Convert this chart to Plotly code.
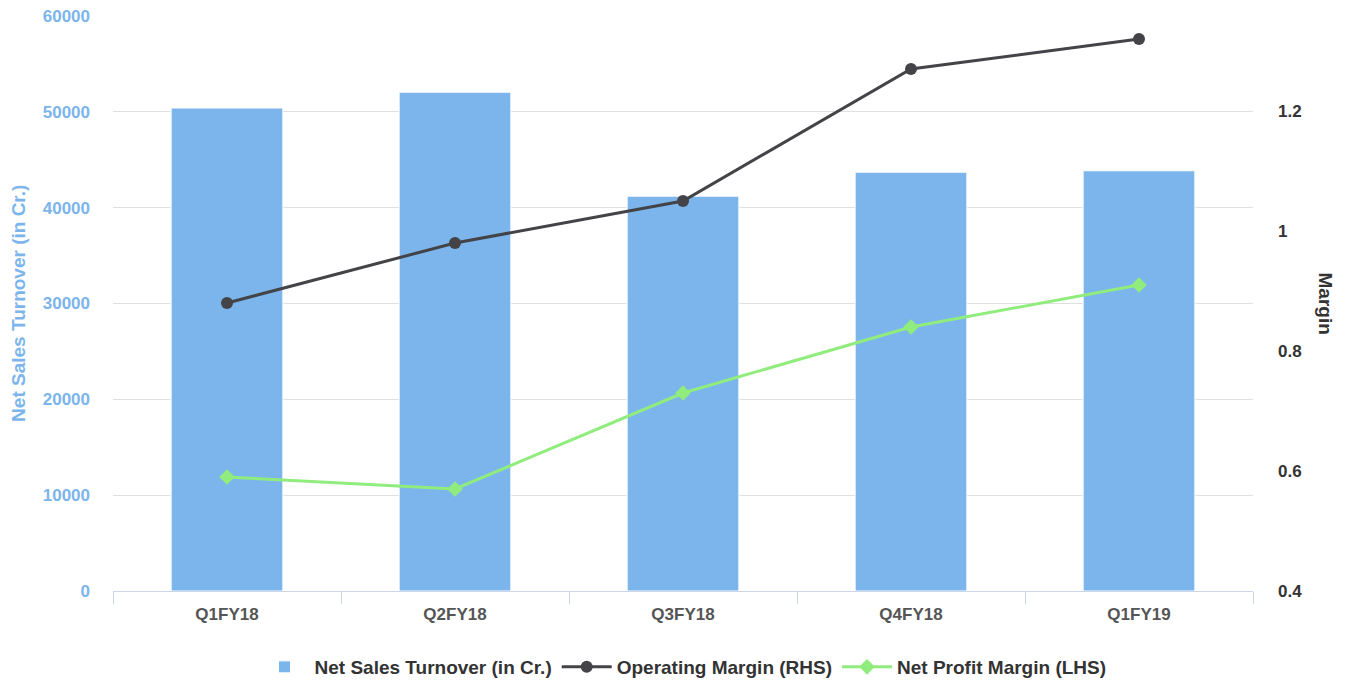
import plotly.graph_objects as go

categories = ["Q1FY18", "Q2FY18", "Q3FY18", "Q4FY18", "Q1FY19"]
net_sales = [50400, 52050, 41200, 43700, 43850]
operating_margin = [0.88, 0.98, 1.05, 1.27, 1.32]
net_profit_margin = [0.59, 0.57, 0.73, 0.84, 0.91]
left_ticks = [0, 10000, 20000, 30000, 40000, 50000, 60000]
right_ticks = [0.4, 0.6, 0.8, 1.0, 1.2]
right_labels = ["0.4", "0.6", "0.8", "1", "1.2"]

FONT = "Liberation Sans, Arial, sans-serif"

fig = go.Figure()
fig.add_trace(go.Bar(
    x=categories, y=net_sales, name="Net Sales Turnover (in Cr.)",
    marker=dict(color="#7cb5ec", line=dict(color="#ffffff", width=1)),
    width=0.49, yaxis="y",
))
fig.add_trace(go.Scatter(
    x=categories, y=operating_margin, name="Operating Margin (RHS)",
    mode="lines+markers", yaxis="y2",
    line=dict(color="#434348", width=3),
    marker=dict(symbol="circle", size=12, color="#434348"),
))
fig.add_trace(go.Scatter(
    x=categories, y=net_profit_margin, name="Net Profit Margin (LHS)",
    mode="lines+markers", yaxis="y2",
    line=dict(color="#90ed7d", width=3),
    marker=dict(symbol="diamond", size=12, color="#90ed7d"),
))

fig.update_layout(
    width=1345, height=682,
    margin=dict(l=113, r=92, t=16, b=91, autoexpand=False),
    paper_bgcolor="white", plot_bgcolor="white",
    font=dict(family=FONT, size=14, color="#333333"),
    showlegend=True,
    legend=dict(orientation="h", x=0.5, xanchor="center",
                yref="container", y=(682 - 667) / 682, yanchor="middle",
                font=dict(family=FONT, size=19, color="#333333", weight="bold"),
                itemwidth=50, tracegroupgap=0),
    xaxis=dict(
        automargin=False,
        showgrid=False, showline=True, linecolor="#ccd6eb", linewidth=1,
        ticks="outside", tickson="boundaries", ticklen=12, tickcolor="#ccd6eb",
        tickfont=dict(family=FONT, size=17, color="#555555", weight="bold"),
        ticklabelstandoff=8,
    ),
    yaxis=dict(
        automargin=False,
        range=[0, 60000], tickvals=left_ticks, ticktext=[str(v) for v in left_ticks],
        showgrid=True, gridcolor="#e0e0e0", gridwidth=1, zeroline=False,
        tickfont=dict(family=FONT, size=17, color="#7cb5ec", weight="bold"),
        ticklabelstandoff=22,
    ),
    yaxis2=dict(
        automargin=False,
        overlaying="y", side="right",
        range=[0.4, 0.4 + 575 / 600], tickvals=right_ticks, ticktext=right_labels,
        showgrid=False, zeroline=False,
        tickfont=dict(family=FONT, size=17, color="#333333", weight="bold"),
        ticklabelstandoff=24,
    ),
    bargap=0.5,
    annotations=[
        dict(text="Net Sales Turnover (in Cr.)", textangle=-90, xref="paper", yref="paper",
             x=-0.083, y=0.5, xanchor="center", yanchor="middle", showarrow=False,
             font=dict(family=FONT, size=19, color="#7cb5ec", weight="bold")),
        dict(text="Margin", textangle=90, xref="paper", yref="paper",
             x=1.064, y=0.5, xanchor="center", yanchor="middle", showarrow=False,
             font=dict(family=FONT, size=19, color="#333333", weight="bold")),
    ],
)

fig.write_html("out.html")
